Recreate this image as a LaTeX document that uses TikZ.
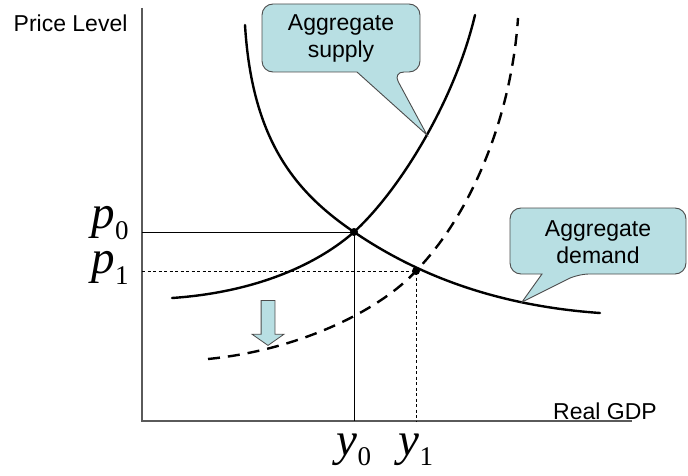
\documentclass[tikz,border=0pt]{standalone}
\usepackage{fontspec}
\setmainfont{Liberation Sans}
\newfontfamily\labfont{Liberation Serif}
\usetikzlibrary{shapes.arrows, positioning}
\definecolor{bubblefill}{RGB}{184,223,227}
\definecolor{axisgray}{RGB}{90,90,90}
\newcommand{\eqlab}[2]{{\labfont\fontsize{47}{47}\selectfont\itshape #1\upshape\raisebox{-.22em}{\fontsize{27}{27}\selectfont #2}}}

\begin{document}
\begin{tikzpicture}[
    x=1pt, y=-1pt,
    axis/.style={draw=axisgray, line width=1.2pt},
    curve/.style={line width=2.4pt, line cap=round},
    shifted/.style={line width=2.4pt, dash pattern=on 12pt off 8pt},
    guide/.style={line width=0.8pt},
    dottedguide/.style={line width=0.8pt, dash pattern=on 3pt off 2.5pt},
    bubble/.style={draw=black!70, fill=bubblefill, line width=0.9pt},
    bubbletext/.style={font=\fontsize{23}{27}\selectfont, align=center},
    axislabel/.style={font=\fontsize{23}{27}\selectfont},
    eqdot/.style={circle, fill=black, inner sep=0pt, minimum size=8pt},
    shiftarrow/.style={single arrow, draw=black!70, fill=bubblefill, line width=0.8pt,
        inner xsep=0pt, inner ysep=6.5pt, single arrow head extend=9pt,
        single arrow tip angle=110, minimum height=45pt, rotate=-90}
]
\useasboundingbox (0,0) rectangle (688,476);

% Axes
\coordinate (origin) at (142,421);
\coordinate (ytop) at (142,8);
\coordinate (xend) at (632,421);
\draw[axis] (ytop) -- (origin) -- (xend);
\node[axislabel, anchor=east] (plabel) at (131,23) {Price Level};
\node[axislabel] (glabel) at (605,411) {Real GDP};

% Equilibrium points
\node[eqdot] (e0) at (354,232) {};
\node[eqdot] (e1) at (416,271) {};

% Guide lines
\coordinate (p0axis) at (142,232);
\coordinate (p1axis) at (142,271);
\coordinate (y0axis) at (354,421);
\coordinate (y1axis) at (416,421);
\draw[guide] (p0axis) -- (e0.center) -- (y0axis);
\draw[dottedguide] (p1axis) -- (e1.center) -- (y1axis);

% Axis values
\node (p0) at (110,223) {\eqlab{p}{0}};
\node (p1) at (110,268) {\eqlab{p}{1}};
\node (y0) at (354,450) {\eqlab{y}{0}};
\node (y1) at (416,450) {\eqlab{y}{1}};

% Curves
\draw[curve] (245,25) .. controls (252,140) and (295,192) .. (e0.center)
    .. controls (420,277) and (500,306) .. (600,313);
\draw[curve] (172,298) .. controls (260,292) and (320,262) .. (e0.center)
    .. controls (400,190) and (455,100) .. (475,15);
\draw[shifted] (208,359) .. controls (300,350) and (380,310) .. (e1.center)
    .. controls (475,210) and (512,110) .. (518,18);

% Shift arrow
\node[shiftarrow] (shift) at (268,320.5) {};

% Callouts
\draw[bubble] (330,72) [rounded corners=11pt] -- (262,72) -- (262,4) -- (420,4) -- (420,72)
    -- (393,72) [sharp corners] -- (427,135) -- (357,72) -- cycle;
\node[bubbletext] (astext) at (341,38) {Aggregate\\supply};
\draw[bubble] (520,274) [rounded corners=11pt] -- (510,274) -- (510,208) -- (686,208) -- (686,274)
    -- (578,274) [sharp corners] -- (522,302) -- (542,274) -- cycle;
\node[bubbletext] (adtext) at (598,242) {Aggregate\\demand};

\end{tikzpicture}
\end{document}
